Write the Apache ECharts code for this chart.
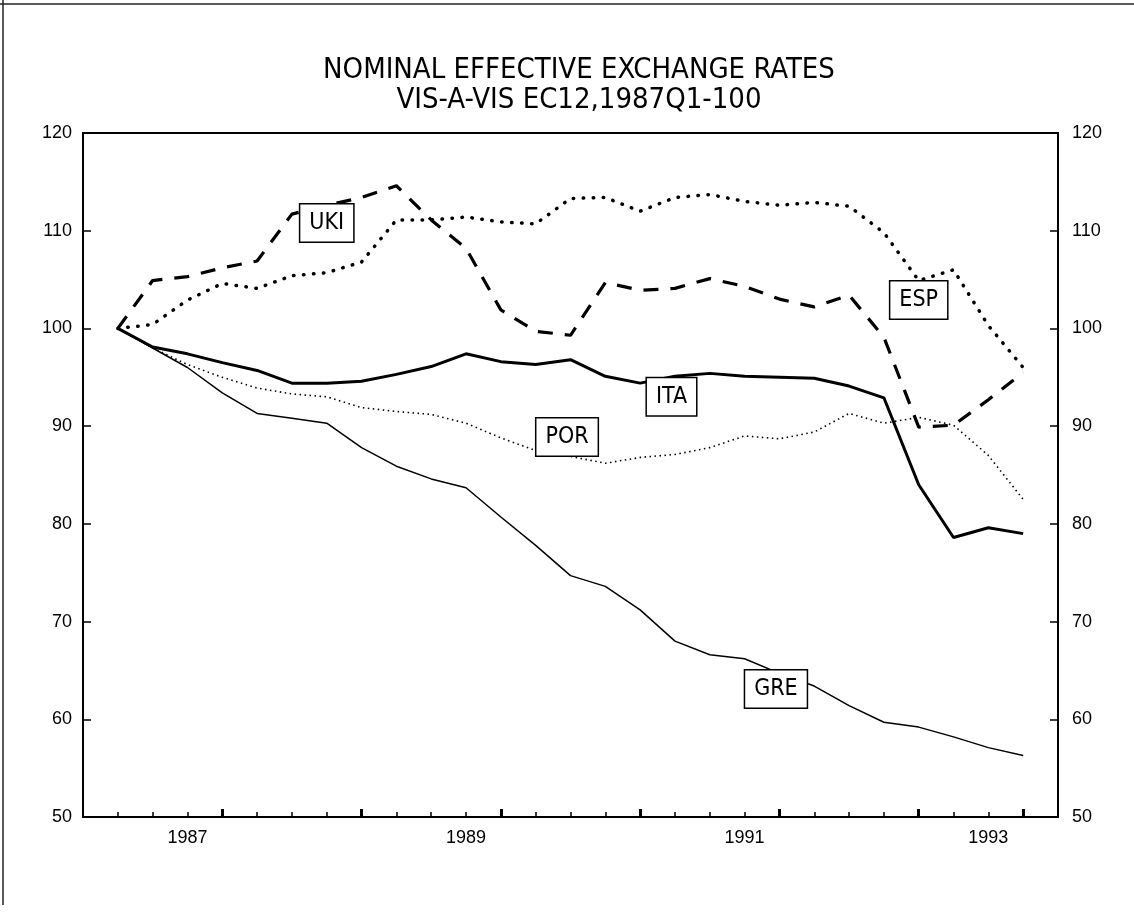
<!DOCTYPE html>
<html>
<head>
<meta charset="utf-8">
<script src="https://cdn.jsdelivr.net/npm/echarts@6.0.0/dist/echarts.min.js"></script>
<style>
  html, body { margin: 0; padding: 0; background: #fff; }
  #chart { width: 1134px; height: 923px; }
</style>
</head>
<body>
<div id="chart"></div>
<script>
// quarterly data, 1987Q1 = 100
var quarters = [
  "1987Q1", "1987Q2", "1987Q3", "1987Q4", "1988Q1", "1988Q2", "1988Q3", "1988Q4",
  "1989Q1", "1989Q2", "1989Q3", "1989Q4", "1990Q1", "1990Q2", "1990Q3", "1990Q4",
  "1991Q1", "1991Q2", "1991Q3", "1991Q4", "1992Q1", "1992Q2", "1992Q3", "1992Q4",
  "1993Q1", "1993Q2", "1993Q3"
];
var uki = [100, 104.9, 105.3, 106.2, 106.9, 111.7, 112.6, 113.4, 114.6, 111.1, 108.2, 101.9, 99.7, 99.3,
  104.7, 103.9, 104.1, 105.1, 104.3, 103.0, 102.2, 103.4, 99.1, 89.9, 90.1, 92.7, 95.5];
var esp = [100, 100.4, 102.9, 104.6, 104.1, 105.4, 105.7, 106.8, 111.1, 111.1, 111.4, 110.9, 110.7, 113.3,
  113.4, 112.0, 113.4, 113.7, 113.0, 112.6, 112.9, 112.5, 109.8, 104.9, 106.0, 100.3, 96.0];
var ita = [100, 98.1, 97.4, 96.5, 95.7, 94.4, 94.4, 94.6, 95.3, 96.1, 97.4, 96.6, 96.3, 96.8,
  95.1, 94.4, 95.1, 95.4, 95.1, 95.0, 94.9, 94.1, 92.9, 84.0, 78.6, 79.6, 79.0];
var por = [100, 98.0, 96.3, 95.0, 93.9, 93.3, 93.0, 91.9, 91.5, 91.2, 90.3, 88.8, 87.5, 86.9,
  86.2, 86.8, 87.1, 87.8, 89.0, 88.7, 89.4, 91.3, 90.3, 90.9, 90.1, 87.0, 82.5];
var gre = [100, 98.0, 96.0, 93.4, 91.3, 90.8, 90.3, 87.8, 85.9, 84.6, 83.7, 80.7, 77.8, 74.7,
  73.6, 71.2, 68.0, 66.6, 66.2, 64.7, 63.4, 61.4, 59.7, 59.2, 58.2, 57.1, 56.3];

// year labels sit under these quarter indexes
var yearLabelAt = [2, 10, 18, 25];
var yearLabels = ["1987", "1989", "1991", "1993"];
var majorTicks = [3, 7, 11, 15, 19, 23, 26];

// where the name boxes sit (quarter index, value)
var uki_label = [6, 110.8];
var esp_label = [23, 102.9];
var ita_label = [15.9, 93.0];
var por_label = [12.9, 88.9];
var gre_label = [18.9, 63.1];

var narrow = '"Liberation Sans Narrow", "DejaVu Sans Condensed", "Liberation Sans", sans-serif';
var tickFont = '"Liberation Sans", sans-serif';

function toPairs(arr) {
  return arr.map(function (v, i) { return [i, v]; });
}

function nameBox(name, at) {
  return {
    symbol: "rect",
    symbolSize: 0,
    silent: true,
    z: 10,
    label: {
      show: true,
      position: "inside",
      formatter: name,
      color: "#000",
      fontFamily: narrow,
      fontSize: 23,
      backgroundColor: "#fff",
      borderColor: "#000",
      borderWidth: 1.5,
      padding: [8, 9, 6, 9]
    },
    data: [{ coord: at }]
  };
}

var chart = echarts.init(document.getElementById("chart"), null, { renderer: "canvas" });

var allTicks = quarters.map(function (q, i) { return i; });

chart.setOption({
  backgroundColor: "#fff",
  animation: false,
  title: {
    text: "NOMINAL EFFECTIVE EXCHANGE RATES\nVIS-A-VIS EC12,1987Q1-100",
    left: 574,
    textAlign: "center",
    top: 50,
    textStyle: {
      fontFamily: narrow,
      fontSize: 29,
      fontWeight: "normal",
      color: "#000",
      lineHeight: 30
    }
  },
  graphic: [
    { type: "line", shape: { x1: 0, y1: 4, x2: 1134, y2: 4 }, style: { stroke: "#222", lineWidth: 1.5 } },
    { type: "line", shape: { x1: 3, y1: 0, x2: 3, y2: 905 }, style: { stroke: "#222", lineWidth: 1.5 } }
  ],
  grid: {
    left: 83,
    right: 76,
    top: 133,
    bottom: 106,
    show: true,
    borderColor: "#000",
    borderWidth: 2,
    containLabel: false
  },
  xAxis: [
    {
      type: "value",
      min: -1,
      max: 27,
      position: "bottom",
      axisLine: { onZero: false, lineStyle: { color: "#000", width: 2 } },
      axisTick: { customValues: allTicks, inside: true, length: 5, lineStyle: { color: "#000", width: 1.5 } },
      axisLabel: {
        customValues: yearLabelAt,
        margin: 12,
        color: "#000",
        fontSize: 18,
        fontFamily: tickFont,
        formatter: function (v) {
          var k = yearLabelAt.indexOf(v);
          return k >= 0 ? yearLabels[k] : "";
        }
      },
      splitLine: { show: false }
    },
    {
      type: "value",
      min: -1,
      max: 27,
      position: "bottom",
      axisLine: { show: false, onZero: false },
      axisTick: { customValues: majorTicks, inside: true, length: 8, lineStyle: { color: "#000", width: 3 } },
      axisLabel: { show: false },
      splitLine: { show: false }
    }
  ],
  yAxis: [
    {
      type: "value",
      min: 50,
      max: 120,
      interval: 10,
      position: "left",
      axisLine: { show: true, onZero: false, lineStyle: { color: "#000", width: 2 } },
      axisTick: { show: true, inside: true, length: 8, lineStyle: { color: "#000", width: 1.5 } },
      axisLabel: { color: "#000", fontSize: 18, margin: 11, fontFamily: tickFont },
      splitLine: { show: false }
    },
    {
      type: "value",
      min: 50,
      max: 120,
      interval: 10,
      position: "right",
      axisLine: { show: true, onZero: false, lineStyle: { color: "#000", width: 2 } },
      axisTick: { show: true, inside: true, length: 8, lineStyle: { color: "#000", width: 1.5 } },
      axisLabel: { color: "#000", fontSize: 18, margin: 14, fontFamily: tickFont },
      splitLine: { show: false }
    }
  ],
  series: [
    {
      name: "UKI",
      type: "line",
      data: toPairs(uki),
      showSymbol: false,
      lineStyle: { color: "#000", width: 3.2, type: [15, 12] },
      markPoint: nameBox("UKI", uki_label)
    },
    {
      name: "ESP",
      type: "line",
      data: toPairs(esp),
      showSymbol: false,
      lineStyle: { color: "#000", width: 3.5, type: [0.5, 9.5], cap: "round" },
      markPoint: nameBox("ESP", esp_label)
    },
    {
      name: "ITA",
      type: "line",
      data: toPairs(ita),
      showSymbol: false,
      lineStyle: { color: "#000", width: 3 },
      markPoint: nameBox("ITA", ita_label)
    },
    {
      name: "POR",
      type: "line",
      data: toPairs(por),
      showSymbol: false,
      lineStyle: { color: "#000", width: 1.6, type: [1.5, 3.5] },
      markPoint: nameBox("POR", por_label)
    },
    {
      name: "GRE",
      type: "line",
      data: toPairs(gre),
      showSymbol: false,
      lineStyle: { color: "#000", width: 1.5 },
      markPoint: nameBox("GRE", gre_label)
    }
  ]
});
</script>
</body>
</html>
